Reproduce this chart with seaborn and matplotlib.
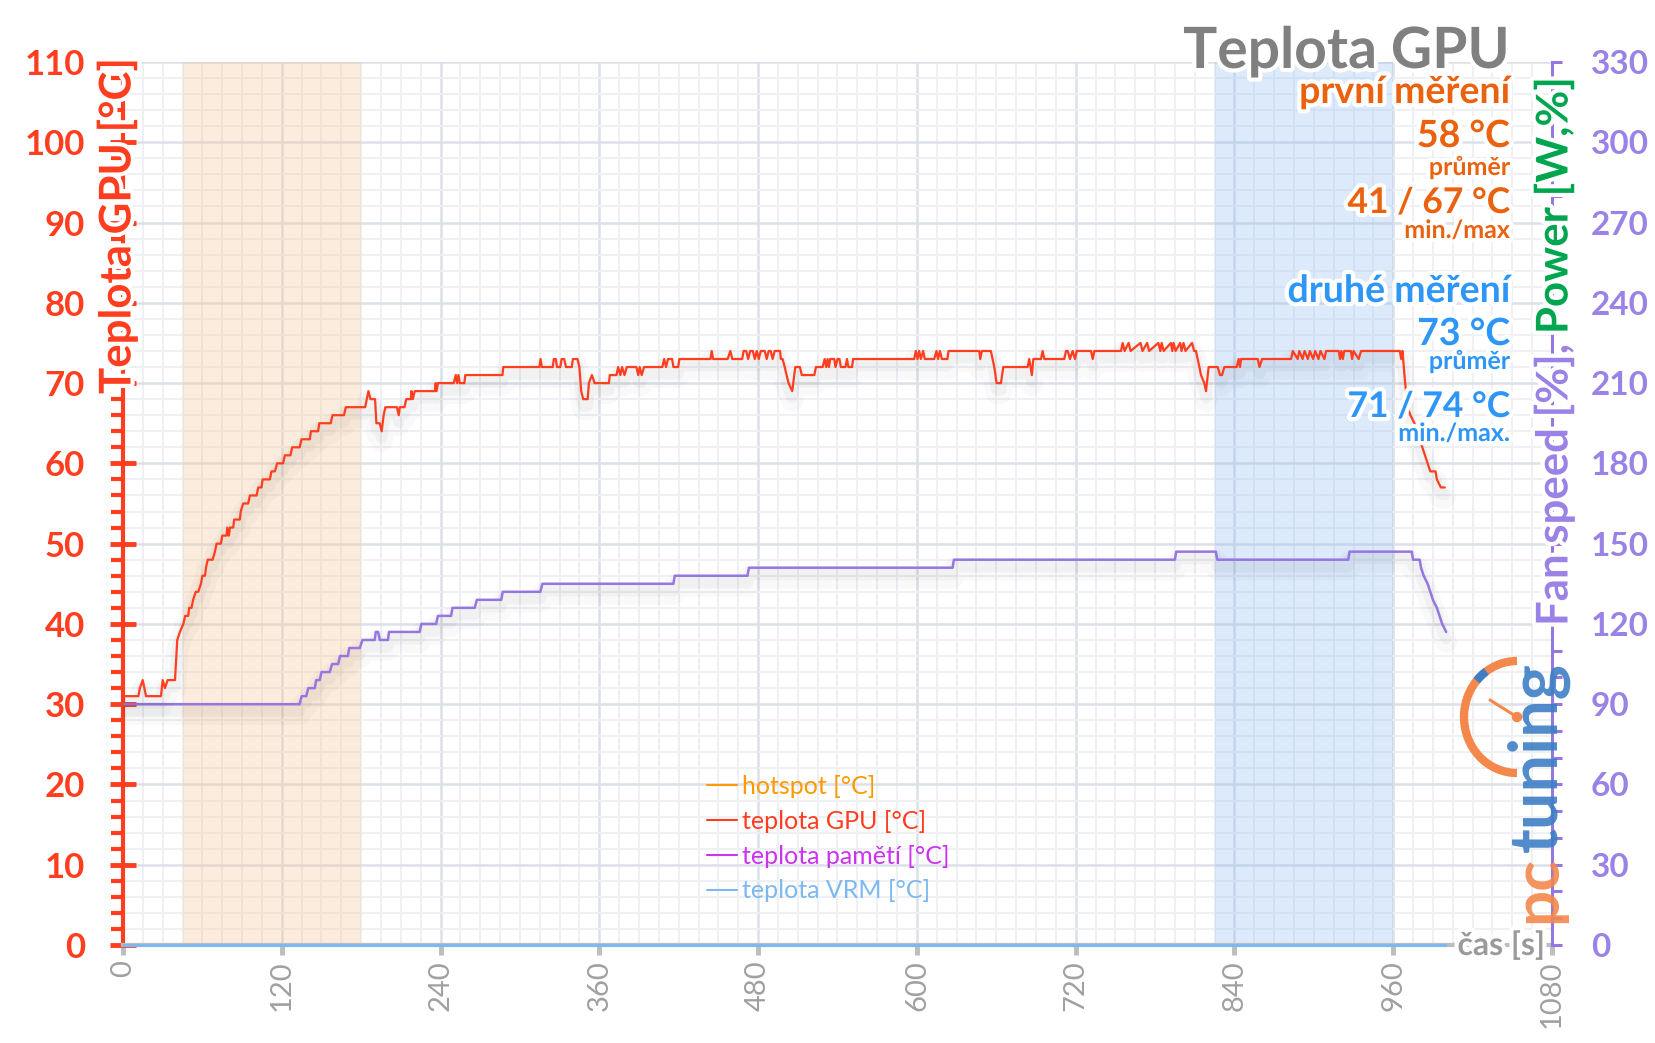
import matplotlib
matplotlib.use("Agg")
import matplotlib.pyplot as plt
import seaborn as sns
import pandas as pd
from matplotlib import patheffects as pe
from matplotlib.lines import Line2D
from matplotlib.patches import Arc, Circle
from matplotlib.ticker import MultipleLocator, FixedLocator

# ---------------- data ----------------
gpu_points = [
    (0, 31), (11.6, 31), (12.8, 32), (14.9, 33), (17.4, 31), (28.7, 31), (30, 33), (31.7, 32), (33.7, 33),
    (39.3, 33), (41, 38), (43, 39), (45.6, 40), (47, 41), (49.3, 41), (50, 42), (51.8, 42), (53, 43),
    (55, 44), (56.9, 44), (58.9, 45), (60, 46), (62, 46), (62.7, 47), (64, 48), (67.7, 48), (69.5, 49),
    (70.7, 50), (74, 50), (75, 51), (78.3, 51), (78.8, 52), (80, 51), (80.8, 52), (83.3, 52), (84, 53),
    (88.3, 53), (89, 54), (90.8, 55), (94.6, 55), (95.9, 56), (101, 56), (102.2, 57), (104.7, 57),
    (105.5, 58), (111, 58), (112.2, 59), (114.8, 59), (116.5, 60), (121, 60), (122.3, 61), (126.6, 61),
    (127.8, 62), (133.6, 62), (134.9, 63), (141.2, 63), (142, 64), (147.5, 64), (148.3, 65), (157, 65),
    (158.3, 66), (167, 66), (168.4, 67), (183, 67), (185.5, 69), (187, 68), (190.5, 68), (191.5, 65),
    (194, 65), (195.5, 64), (197, 66), (198.3, 67), (207, 67), (208.4, 66), (209.2, 67), (212.7, 67),
    (214.1, 68), (217.5, 68), (218, 69), (219, 68), (220.5, 69), (235.7, 69), (236.3, 70), (237, 69),
    (238, 70), (250, 70), (251.5, 71), (252.5, 70), (253.5, 71), (254.5, 70), (258, 70), (258.7, 71),
    (286.8, 71), (287.4, 72), (314.7, 72), (315.6, 73), (316.5, 72), (324.8, 72), (325.6, 73), (327.1, 73),
    (328, 72), (330.5, 72), (331.5, 73), (333.4, 73), (334.8, 72), (339.2, 72), (340, 73), (343.5, 73),
    (344.9, 72), (346.3, 69), (347.8, 68), (351.2, 68), (352.1, 70), (354.4, 71), (356.4, 70), (367.3, 70),
    (367.9, 71), (373, 71), (374.2, 72), (375.9, 71), (377.2, 72), (379, 71), (380.8, 72), (388, 72),
    (389.4, 71), (390.5, 72), (392, 71), (393.8, 72), (407.6, 72), (409, 73), (410.4, 72), (411.9, 73),
    (415, 73), (416, 72), (419.6, 72), (420.5, 73), (444, 73), (444.9, 74), (446, 73), (457, 73),
    (459, 74), (460.5, 73), (468, 73), (469, 74), (471, 74), (472.5, 73), (474, 74), (476, 74),
    (477.5, 73), (479, 74), (480.5, 73), (482, 74), (485, 74), (486.5, 73), (488, 74), (489.5, 74),
    (491, 73), (492.5, 74), (496.6, 74), (497.2, 73), (498.5, 73), (500.1, 72), (501.5, 71), (503, 70),
    (505.8, 69), (507.3, 71), (508.1, 72), (511.6, 72), (513, 71), (522.5, 71), (523.7, 72), (528.8, 72),
    (530.3, 73), (531.5, 72), (532.5, 73), (533.5, 72), (534.5, 73), (537.5, 73), (538.5, 72), (540, 73),
    (541.5, 73), (542.5, 72), (546, 72), (547.2, 73), (548.2, 72), (551, 72), (551.8, 73), (598, 73),
    (599.2, 74), (600.5, 73), (601.7, 74), (603, 73), (604.7, 74), (606, 73), (613.1, 73), (614.8, 74),
    (616, 73), (617.4, 74), (618.9, 73), (623.1, 73), (623.9, 74), (647.1, 74), (647.9, 73), (649.1, 74),
    (655.9, 74), (658.5, 72), (660.2, 70), (663.5, 70), (665.3, 72), (683.7, 72), (684.9, 73), (686.9, 71),
    (688, 73), (693.8, 73), (695, 74), (696.3, 73), (711.4, 73), (712.7, 74), (714, 74), (715.7, 73),
    (717.7, 74), (719.5, 73), (720.8, 74), (731.6, 74), (732.9, 73), (734.1, 74), (754.3, 74), (755.5, 75),
    (757, 74), (760, 75), (761.5, 74), (769, 75), (770.5, 74), (774, 75), (775.5, 74), (782.5, 75),
    (784, 74), (785, 75), (786.5, 74), (792, 75), (793, 74), (794, 75), (795.5, 74), (799, 75), (800, 74),
    (801.5, 75), (803, 74), (808, 75), (809.5, 74), (810.9, 74), (812.2, 73), (813.5, 72), (814.7, 71),
    (817.2, 70), (818.5, 69), (820.5, 72), (827.3, 72), (829.1, 71), (830.6, 71), (832.4, 72), (841.7, 72),
    (843.2, 73), (844.2, 72), (845, 73), (857.6, 73), (858.9, 72), (860.9, 73), (882.8, 73), (884.1, 74),
    (887.8, 73), (889, 74), (891.5, 73), (893, 74), (895.5, 73), (897, 74), (899.5, 73), (901, 74),
    (903.5, 73), (905, 74), (908, 73), (909.3, 74), (918.8, 74), (919.8, 73), (920.8, 74), (921.9, 73),
    (923, 74), (928, 74), (928.9, 73), (930, 74), (933.9, 73), (935.7, 74), (965, 74), (966, 73),
    (967, 74), (968, 72), (969, 70), (971, 67), (973, 66), (976, 65), (978, 64), (980, 63), (982, 62),
    (984, 61), (986, 60), (988, 59), (992, 59), (993, 58), (996, 57), (999, 57),
]
mem_points = [
    (0, 30), (133.5, 30), (135, 31), (138.5, 31), (140, 32), (145, 32), (146, 33), (148.7, 33), (150, 34),
    (156.3, 34), (158, 35), (162.6, 35), (164, 36), (170, 36), (171, 37), (179, 37), (181, 38),
    (190.3, 38), (191, 39), (192.8, 39), (194, 38), (200.3, 38), (201, 39), (224.2, 39), (225.5, 40),
    (236.7, 40), (238, 41), (248, 41), (249, 42), (265.8, 42), (267.5, 43), (285.9, 43), (287, 44),
    (315.4, 44), (317, 45), (416, 45), (417, 46), (472, 46), (473, 47), (627, 47), (628, 48), (795, 48),
    (796, 49), (826, 49), (827, 48), (926, 48), (927, 49), (974, 49), (975, 48), (980, 48), (981, 47),
    (983, 46), (986, 45), (988, 44), (990, 43), (993, 42), (995, 41), (997, 40), (1000, 39),
]
vrm_time = [0, 999]
vrm_temp = [0, 0]

gpu_time = [p[0] for p in gpu_points]
gpu_temp = [p[1] for p in gpu_points]
mem_time = [p[0] for p in mem_points]
mem_temp = [p[1] for p in mem_points]

x_ticks = [0, 120, 240, 360, 480, 600, 720, 840, 960, 1080]
left_ticks = [0, 10, 20, 30, 40, 50, 60, 70, 80, 90, 100, 110]
right_ticks = [0, 30, 60, 90, 120, 150, 180, 210, 240, 270, 300, 330]
first_span = (45, 180)
second_span = (825, 960)

legend_labels = ["hotspot [°C]", "teplota GPU [°C]", "teplota pamětí [°C]", "teplota VRM [°C]"]
legend_colors = ["#FF9900", "#FF3D1F", "#CC33EE", "#7DB9F0"]

title_text = "Teplota GPU"
first_stats = ["první měření", "58 °C", "průměr", "41 / 67 °C", "min./max"]
second_stats = ["druhé měření", "73 °C", "průměr", "71 / 74 °C", "min./max."]

# ---------------- style ----------------
RED = "#FF3D1F"
PURPLE = "#9B82E6"
LINE_PURPLE = "#9676E0"
GREY_TXT = "#A0A0A0"
ORANGE_TXT = "#EA620E"
BLUE_TXT = "#2E96F7"
GREEN = "#00A550"

sns.set_theme(style="white")
plt.rcParams["font.family"] = ["Lato", "DejaVu Sans"]

W, H = 1656, 1043
fig = plt.figure(figsize=(W / 100, H / 100), dpi=100)
L, R, T, B = 123, 1552, 62, 945
ax = fig.add_axes([L / W, 1 - B / H, (R - L) / W, (B - T) / H])
ax.set_xlim(0, 1080)
ax.set_ylim(0, 110)

ax.xaxis.set_major_locator(FixedLocator(x_ticks))
ax.xaxis.set_minor_locator(MultipleLocator(15))
ax.yaxis.set_major_locator(FixedLocator(left_ticks))
ax.yaxis.set_minor_locator(MultipleLocator(2))
ax.grid(which="major", color="#DCE0E8", lw=1.8)
ax.grid(which="minor", color="#EEF0F4", lw=1.4)
ax.set_axisbelow(True)

ax.axvspan(*first_span, color="#F8C391", alpha=0.3, lw=0, zorder=1)
ax.axvspan(*second_span, color="#8EBCF2", alpha=0.3, lw=0, zorder=1)

shadow = [pe.SimpleLineShadow(offset=(0, -7), shadow_color="black", alpha=0.025, linewidth=16),
          pe.SimpleLineShadow(offset=(0, -5), shadow_color="black", alpha=0.03, linewidth=8),
          pe.Normal()]

sns.lineplot(x=mem_time, y=mem_temp, ax=ax, color=LINE_PURPLE, lw=1.8, estimator=None, sort=False,
             legend=False, zorder=4, path_effects=shadow)
sns.lineplot(x=gpu_time, y=gpu_temp, ax=ax, color=RED, lw=1.6, estimator=None, sort=False,
             legend=False, zorder=5, path_effects=shadow)
sns.lineplot(x=vrm_time, y=vrm_temp, ax=ax, color=legend_colors[3], lw=2.2, estimator=None, sort=False,
             legend=False, zorder=6, clip_on=False)
ax.set_xlabel("")
ax.set_ylabel("")

for s in ["top", "right"]:
    ax.spines[s].set_visible(False)
ax.spines["left"].set_color(RED)
ax.spines["left"].set_linewidth(3)
ax.spines["bottom"].set_color("#BDBDBD")
ax.spines["bottom"].set_linewidth(3)

ax.set_yticklabels([str(v) for v in left_ticks], fontweight="bold")
ax.set_xticklabels([str(v) for v in x_ticks])
ax.tick_params(axis="y", which="major", direction="inout", length=19, width=3.5, color=RED,
               labelcolor=RED, labelsize=25, pad=18, left=True)
ax.tick_params(axis="y", which="minor", direction="out", length=8.5, width=3, color=RED, left=True)
ax.tick_params(axis="x", which="major", direction="out", length=7, width=3.5, color="#BDBDBD",
               labelcolor=GREY_TXT, labelsize=21, labelrotation=90, pad=4, bottom=True)
ax.tick_params(axis="x", which="minor", length=0)

ax2 = ax.twinx()
ax2.set_ylim(0, 330)
ax2.yaxis.set_major_locator(FixedLocator(right_ticks))
ax2.yaxis.set_minor_locator(MultipleLocator(10))
ax2.grid(False)
for s in ["top", "left", "bottom"]:
    ax2.spines[s].set_visible(False)
ax2.spines["right"].set_color(LINE_PURPLE)
ax2.spines["right"].set_linewidth(2.2)
ax2.set_yticklabels([str(v) for v in right_ticks], fontweight="bold")
ax2.tick_params(axis="y", which="both", direction="out", length=7, width=2.2, color=LINE_PURPLE,
                labelcolor=PURPLE, labelsize=24, pad=21, right=True)

handles = [Line2D([0], [0], color=c, lw=1.5) for c in legend_colors]
ax.legend(handles, legend_labels, loc="upper left", bbox_to_anchor=(707 / W, 1 - 775 / H),
          bbox_transform=fig.transFigure, frameon=False, fontsize=18, labelcolor=legend_colors,
          handlelength=1.2, handletextpad=0.2, labelspacing=0.47, borderpad=0, borderaxespad=0)

# ---------------- overlay (pixel coordinates) ----------------
oax = fig.add_axes([0, 0, 1, 1], zorder=10)
oax.set_xlim(0, W)
oax.set_ylim(H, 0)
oax.axis("off")
oax.patch.set_alpha(0)
glow = [pe.withStroke(linewidth=6, foreground="white")]

oax.text(1510, 68, title_text, ha="right", va="baseline", fontsize=41, fontweight="bold",
         color="#808080", path_effects=glow)

stat_y1 = [103, 147, 175, 213, 238]
stat_y2 = [302, 345, 369, 417, 441]
stat_sizes = [27, 27, 18, 25.5, 18]
for txt, y, fs in zip(first_stats, stat_y1, stat_sizes):
    oax.text(1510, y, txt, ha="right", va="baseline", fontsize=fs, fontweight="bold",
             color=ORANGE_TXT, path_effects=glow)
for txt, y, fs in zip(second_stats, stat_y2, stat_sizes):
    oax.text(1510, y, txt, ha="right", va="baseline", fontsize=fs, fontweight="bold",
             color=BLUE_TXT, path_effects=glow)

oax.text(117, 58, "Teplota GPU [°C]", rotation=90, ha="center", va="top", fontsize=31.5,
         fontweight="bold", color=RED, path_effects=glow)

green = oax.text(1554, 77, "Power [W,%]", rotation=90, ha="center", va="top", fontsize=31.5,
                 fontweight="bold", color=GREEN, path_effects=glow)
fig.canvas.draw()
bb = green.get_window_extent(fig.canvas.get_renderer())
oax.text(1554, H - bb.y0 + 10, "Fan speed [%],", rotation=90, ha="center", va="top", fontsize=31.5,
         fontweight="bold", color=PURPLE, path_effects=glow)

oax.text(1545, 955, "čas [s]", ha="right", va="baseline", fontsize=23, fontweight="bold",
         color="#9A9A9A", path_effects=glow)

# pcTuning watermark
oax.add_patch(Arc((1517, 717), 106, 112, theta1=90, theta2=270, lw=6, color="#F4884B", zorder=3))
oax.add_patch(Arc((1517, 717), 106, 112, theta1=222, theta2=236, lw=6, color="#3D7EC5", zorder=4))
oax.plot([1517, 1490], [717, 700], color="#F4884B", lw=2.2)
oax.add_patch(Circle((1517, 717), 4.5, color="#F4884B"))
oax.text(1538, 852, "tuning", rotation=90, ha="center", va="bottom", fontsize=48, fontweight="bold",
         color="#3D7EC5", alpha=0.9)
oax.text(1538, 856, "pc", rotation=90, ha="center", va="top", fontsize=46, fontweight="bold",
         color="#F4884B", alpha=0.9)

fig.savefig("out.png", dpi=100)
